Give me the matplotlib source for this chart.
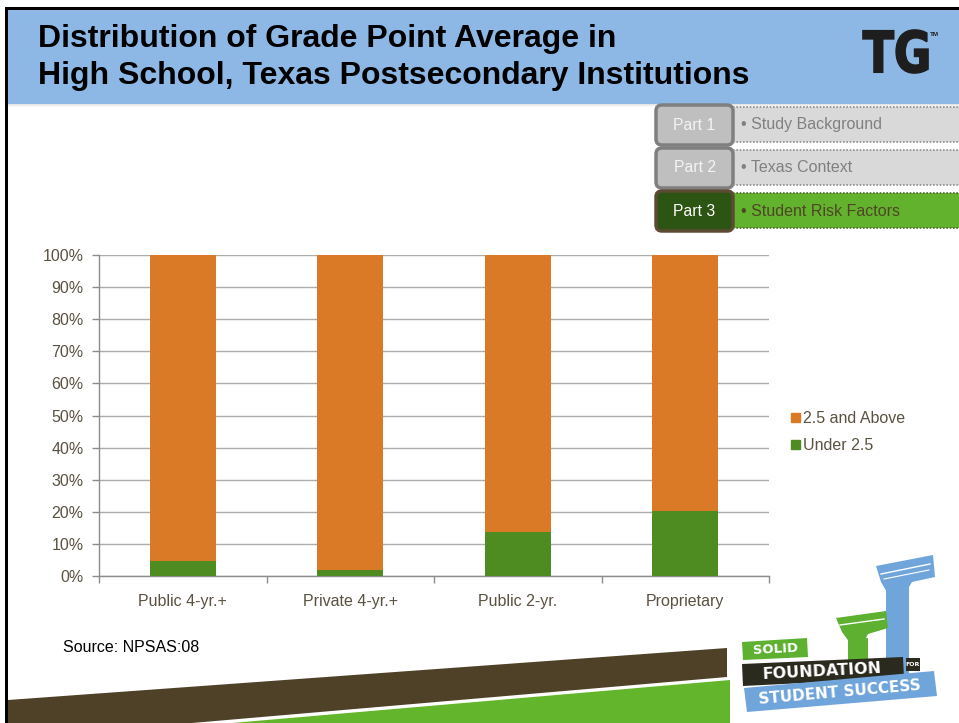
import numpy as np
import matplotlib
matplotlib.use("Agg")
import matplotlib.pyplot as plt
from matplotlib.patches import Rectangle, Polygon, FancyBboxPatch, PathPatch, Patch
from matplotlib.textpath import TextPath
from matplotlib.font_manager import FontProperties
from matplotlib.transforms import Affine2D

# ---------------- data ----------------
categories = ["Public 4-yr.+", "Private 4-yr.+", "Public 2-yr.", "Proprietary"]
under_2_5 = [4.8, 2.0, 13.7, 20.2]
above_2_5 = [95.2, 98.0, 86.3, 79.8]
series_names = ["2.5 and Above", "Under 2.5"]
y_ticks = [0, 10, 20, 30, 40, 50, 60, 70, 80, 90, 100]
tab_parts = ["Part 1", "Part 2", "Part 3"]
tab_topics = ["Study Background", "Texas Context", "Student Risk Factors"]
title_lines = ["Distribution of Grade Point Average in",
               "High School, Texas Postsecondary Institutions"]
source_note = "Source: NPSAS:08"

# ---------------- style ----------------
ORANGE = "#DA7A27"
GREEN = "#4E8B20"
TXT = "#5A5140"
GRID = "#ADADAD"
AXC = "#8C8C8C"
FONT = ["Liberation Sans", "DejaVu Sans"]
plt.rcParams["font.family"] = FONT

W, H = 959, 723
fig = plt.figure(figsize=(W / 100, H / 100), dpi=100)
fig.patch.set_facecolor("white")

bg = fig.add_axes([0, 0, 1, 1], zorder=0)
bg.set_xlim(0, W)
bg.set_ylim(H, 0)
bg.axis("off")

# frame + header
bg.add_patch(Rectangle((8, 9), W - 8, 95, fc="#8DB8E5", ec="none"))
for i, a in enumerate([0.25, 0.15, 0.08]):
    bg.add_patch(Rectangle((8, 104 + i), W - 8, 1, fc="#9A9A9A", alpha=a, ec="none"))
bg.add_patch(Rectangle((5, 7), W - 5, 2.5, fc="black", ec="none"))
bg.add_patch(Rectangle((5, 7), 3, H - 7, fc="black", ec="none"))

# title
bg.text(38, 47, title_lines[0], fontsize=23, weight="bold", va="baseline", ha="left", color="black")
bg.text(38, 84, title_lines[1], fontsize=23, weight="bold", va="baseline", ha="left", color="black")

# TG logo
tp = TextPath((0, 0), "TG", size=1, prop=FontProperties(family="DejaVu Sans", weight="bold"))
bb = tp.get_extents()
tr = Affine2D().translate(-bb.x0, -bb.y0).scale(65 / bb.width, -43 / bb.height).translate(863, 73)
bg.add_patch(PathPatch(tr.transform_path(tp), fc="#1E1E1E", ec="#1E1E1E", lw=1.2))
bg.text(930, 34, "TM", fontsize=4.5, weight="bold", color="#1E1E1E", va="center", ha="left")

# navigation tabs
tab_y = [104, 147, 190]
for i, (p, t) in enumerate(zip(tab_parts, tab_topics)):
    y0 = tab_y[i]
    active = (i == 2)
    rfc = "#63B22E" if active else "#D9D9D9"
    bg.add_patch(Rectangle((733, y0 + 3), W - 733, 35, fc=rfc, ec="none"))
    for yy in (y0 + 3, y0 + 38):
        bg.plot([733, W], [yy, yy], color="#8F8F8F" if not active else "#4F6B30",
                lw=1.2, ls=(0, (1, 1)))
    bfc = "#2C5413" if active else "#BFBFBF"
    bec = "#5C4B32" if active else "#7F7F7F"
    bg.add_patch(FancyBboxPatch((656, y0 + 1), 77, 40, boxstyle="round,pad=0,rounding_size=6",
                                fc=bfc, ec=bec, lw=2.5))
    bg.text(694.5, y0 + 21, p, fontsize=11.3, color="white" if active else "#F4F4F4",
            ha="center", va="center")
    bg.text(741, y0 + 21, "\u2022 " + t, fontsize=11.5,
            color="#4E4526" if active else "#808080", ha="left", va="center")

# source note
bg.text(63, 647, source_note, fontsize=11.5, color="black", ha="left", va="center")

# bottom bands
bg.add_patch(Polygon([(8, 700), (727, 648), (727, 677), (192, 723), (8, 723)],
                     closed=True, fc="#4E4128", ec="none"))
bg.add_patch(Polygon([(232, 723), (730, 680), (730, 723)], closed=True, fc="#63B52C", ec="none"))

# ---------------- chart ----------------
ax = fig.add_axes([99 / W, 1 - 576 / H, 670 / W, 321 / H], zorder=2)
ax.patch.set_alpha(0)
x = np.arange(len(categories))
bw = 0.395
ax.bar(x, under_2_5, width=bw, color=GREEN, zorder=3, label=series_names[1])
ax.bar(x, above_2_5, width=bw, bottom=under_2_5, color=ORANGE, zorder=3, label=series_names[0])
ax.set_xlim(-0.5, len(categories) - 0.5)
ax.set_ylim(0, 100)
ax.set_yticks(y_ticks)
ax.set_yticklabels([f"{v}%" for v in y_ticks])
ax.grid(axis="y", color=GRID, lw=1, zorder=0)
ax.set_axisbelow(True)
for s in ("top", "right"):
    ax.spines[s].set_visible(False)
for s in ("left", "bottom"):
    ax.spines[s].set_color(AXC)
    ax.spines[s].set_linewidth(1)
ax.tick_params(axis="y", length=5, color=AXC, width=1, labelsize=11.5, labelcolor=TXT, pad=6)
ax.set_xticks(x)
ax.set_xticklabels(categories)
ax.tick_params(axis="x", which="major", length=0, pad=13, labelsize=11.5, labelcolor=TXT)
ax.set_xticks(np.arange(len(categories) + 1) - 0.5, minor=True)
ax.tick_params(axis="x", which="minor", length=5, color=AXC, width=1)

handles = [Patch(color=ORANGE), Patch(color=GREEN)]
fig.legend(handles, series_names, loc="upper left", bbox_to_anchor=(791 / W, 1 - 411 / H),
           frameon=False, fontsize=11.5, handlelength=0.55, handleheight=0.55,
           handletextpad=0.2, labelspacing=0.75, borderpad=0, borderaxespad=0,
           labelcolor=TXT)

# ---------------- bottom-right logo ----------------
ov = fig.add_axes([0, 0, 1, 1], zorder=5)
ov.set_xlim(0, W)
ov.set_ylim(H, 0)
ov.axis("off")
BLUE = "#6FA5DB"
LGREEN = "#5DB030"
# blue column
ov.add_patch(Polygon([(886, 588), (909, 586), (909, 690), (886, 692)], fc=BLUE, ec="none"))
ov.add_patch(Polygon([(876, 566), (933, 555), (935, 577), (912, 582), (906, 592), (888, 594), (881, 582)],
                     fc=BLUE, ec="none"))
ov.plot([881, 930], [574, 564], color="white", lw=1)
ov.plot([884, 929], [579, 570], color="white", lw=0.8)
# green column
ov.add_patch(Polygon([(848, 640), (868, 638), (868, 670), (848, 672)], fc=LGREEN, ec="none"))
ov.add_patch(Polygon([(836, 618), (886, 611), (888, 628), (868, 634), (864, 642), (850, 643), (842, 632)],
                     fc=LGREEN, ec="none"))
ov.plot([840, 884], [625, 619], color="white", lw=1)
# word boxes
ov.add_patch(Polygon([(742, 642), (807, 638), (808, 657), (743, 660)], fc=LGREEN, ec="none"))
ov.text(775, 649.5, "SOLID", fontsize=9.5, weight="bold", color="white", ha="center", va="center",
        family="DejaVu Sans", rotation=3)
ov.add_patch(Polygon([(742, 664), (903, 657), (904, 678), (743, 686)], fc="#2B2A1F", ec="none"))
ov.text(822, 671.5, "FOUNDATION", fontsize=11.5, weight="bold", color="white", ha="center",
        va="center", family="DejaVu Sans", rotation=3)
ov.add_patch(Rectangle((906, 658), 14, 13, fc="#2B2A1F", ec="none"))
ov.text(913, 664.5, "FOR", fontsize=4.5, weight="bold", color="white", ha="center", va="center",
        family="DejaVu Sans")
ov.add_patch(Polygon([(744, 688), (934, 671), (937, 696), (747, 712)], fc=BLUE, ec="none"))
ov.text(840, 692, "STUDENT SUCCESS", fontsize=11, weight="bold", color="white", ha="center",
        va="center", family="DejaVu Sans", rotation=5)

fig.savefig("out.png", dpi=100, facecolor="white")
